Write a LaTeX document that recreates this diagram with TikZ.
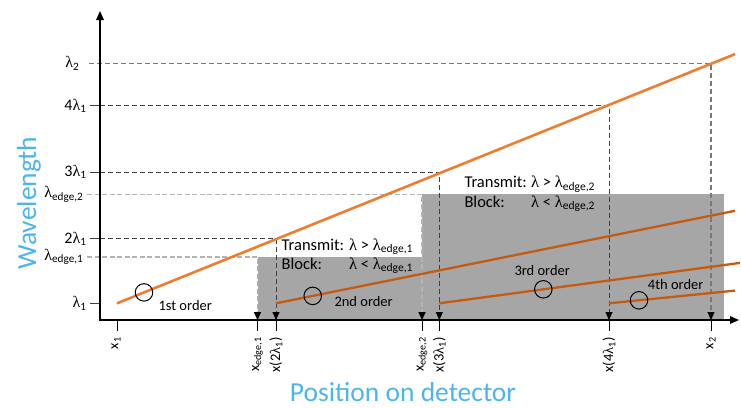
\documentclass[tikz,border=0pt]{standalone}
\usepackage{fontspec}
\setmainfont{Carlito}
\newfontfamily\lamfont{Liberation Serif}
\usetikzlibrary{arrows.meta}
\newcommand\lmb{{\lamfont λ}}
\definecolor{orA}{RGB}{237,125,49}
\definecolor{orB}{RGB}{197,90,17}
\definecolor{boxgray}{RGB}{166,166,166}
\definecolor{axblue}{RGB}{77,180,236}
\definecolor{dkdash}{RGB}{64,64,64}
\definecolor{mddash}{RGB}{120,120,120}
\definecolor{ltdash}{RGB}{180,180,180}
\begin{document}
\begin{tikzpicture}[x=1pt,y=-1pt,
  lbl/.style={font=\fontsize{14.5}{17}\selectfont, inner sep=0pt},
  ylbl/.style={font=\fontsize{16}{19}\selectfont, inner sep=0pt, anchor=east},
  xlbl/.style={font=\fontsize{14.5}{17}\selectfont, inner sep=0pt, rotate=90, anchor=east},
  txt/.style={font=\fontsize{16.5}{19}\selectfont, inner sep=0pt, anchor=base west},
  big/.style={font=\fontsize{27.5}{32}\selectfont, text=axblue, inner sep=0pt, anchor=base},
  dk/.style={draw=dkdash, line width=0.9pt, dash pattern=on 5pt off 3pt},
  md/.style={draw=mddash, line width=1.1pt, dash pattern=on 5pt off 3pt},
  lt/.style={draw=ltdash, line width=1.6pt, dash pattern=on 5pt off 2.5pt},
  tip/.style={-{Triangle[length=8pt,width=7pt,color=black]}},
  axis/.style={line width=1.6pt, line join=miter,
     {Triangle[length=9pt,width=7.5pt]}-{Triangle[length=9pt,width=7.5pt]}},
  tick/.style={line width=1pt},
  ord1/.style={draw=orA, line width=2.6pt},
  ordn/.style={draw=orB, line width=2.3pt},
  ring/.style={circle, draw, line width=1pt, minimum size=17.5pt, inner sep=0pt}]
\useasboundingbox (0,0) rectangle (741,407);

% ---- coordinates ----
\coordinate (O) at (100,320);
\coordinate (Ytop) at (100,11);
\coordinate (Xend) at (739,320);
% levels on the axis
\coordinate (Yl1) at (100,303.3);
\coordinate (Yl2) at (100,238.7);
\coordinate (Yl3) at (100,172);
\coordinate (Yl4) at (100,105.7);
\coordinate (YL2) at (89,63.3);
\coordinate (Ye1) at (87,256.7);
\coordinate (Ye2) at (87,194.3);
% corner points
\coordinate (P2) at (276,238.7);
\coordinate (P3) at (439.3,172);
\coordinate (P4) at (609,105.7);
\coordinate (PL2) at (711,63.3);
\coordinate (Pe1) at (257.5,256.7);
\coordinate (Pe2) at (422,194.3);
% feet on the x axis
\coordinate (B1) at (117,320);
\coordinate (B2) at (276,320);
\coordinate (B3) at (439.3,320);
\coordinate (B4) at (609,320);
\coordinate (BL2) at (711,320);
\coordinate (Be1) at (257.5,320);
\coordinate (Be2) at (422,320);

% ---- filter boxes ----
\fill[boxgray] (Pe1) rectangle (Be2);
\fill[boxgray] (Pe2) rectangle (724.3,320);

% ---- dashed guides ----
\draw[lt,tip] (Ye1) -- (Pe1) -- (Be1);
\draw[lt,tip] (Ye2) -- (Pe2) -- (Be2);
\draw[dk,tip] (Yl2) -- (P2) -- (B2);
\draw[dk,tip] (Yl3) -- (P3) -- (B3);
\draw[dk,tip] (Yl4) -- (P4) -- (B4);
\draw[md,tip] (YL2) -- (PL2) -- (BL2);

% ---- ticks ----
\foreach \yy in {303.3,238.7,172,105.7}
  \draw[tick,dkdash] (90,\yy) -- (100,\yy);
\foreach \xx in {117,257.5,276,422,439.3,609,711}
  \draw[tick] (\xx,320) -- (\xx,331);

% ---- diffraction orders ----
\coordinate (A1) at (117,303.3);  \coordinate (E1) at (735,54.1);
\coordinate (A2) at (276,303.3);  \coordinate (E2) at (735,210.8);
\coordinate (A3) at (439.3,303.3);\coordinate (E3) at (740,262.9);
\coordinate (A4) at (609,303.3);  \coordinate (E4) at (735,290.6);
\draw[ord1] (A1) -- (E1);
\draw[ordn] (A2) -- (E2);
\draw[ordn] (A3) -- (E3);
\draw[ordn] (A4) -- (E4);

\node[ring] (c1) at (144,292.4) {};
\node[ring] (c2) at (312.7,295.9) {};
\node[ring] (c3) at (543.3,289.3) {};
\node[ring] (c4) at (639,300.3) {};

% ---- axes ----
\draw[axis] (Ytop) -- (O) -- (Xend);

% ---- y labels ----
\node[ylbl] (ly1) at (86.7,303.3) {\lmb\textsubscript{1}};
\node[ylbl] (ly2) at (86.7,238.7) {2\lmb\textsubscript{1}};
\node[ylbl] (ly3) at (86.7,172) {3\lmb\textsubscript{1}};
\node[ylbl] (ly4) at (86.7,105.7) {4\lmb\textsubscript{1}};
\node[ylbl] (lyL) at (79.5,63.3) {\lmb\textsubscript{2}};
\node[ylbl] (lye1) at (83.5,256.7) {\lmb\textsubscript{edge,1}};
\node[ylbl] (lye2) at (83.5,194.3) {\lmb\textsubscript{edge,2}};

% ---- x labels ----
\node[xlbl] (lx1) at (116,337) {x\textsubscript{1}};
\node[xlbl] (lxe1) at (257.5,337) {x\textsubscript{edge,1}};
\node[xlbl] (lx2) at (276,337) {x(2\lmb\textsubscript{1})};
\node[xlbl] (lxe2) at (422,337) {x\textsubscript{edge,2}};
\node[xlbl] (lx3) at (439.3,337) {x(3\lmb\textsubscript{1})};
\node[xlbl] (lx4) at (609,337) {x(4\lmb\textsubscript{1})};
\node[xlbl] (lxL) at (711,337) {x\textsubscript{2}};

% ---- order labels ----
\node[lbl,anchor=base west] (o1) at (158.3,310) {1st order};
\node[lbl,anchor=base west] (o2) at (334.3,306.7) {2nd order};
\node[lbl,anchor=base west] (o3) at (514.3,275.7) {3rd order};
\node[lbl,anchor=base west] (o4) at (647.7,289.3) {4th order};

% ---- filter texts ----
\node[txt] (t1) at (281.5,250) {\makebox[67.5pt][l]{Transmit:}\lmb{} > \lmb\textsubscript{edge,1}};
\node[txt] (k1) at (281.5,269) {\makebox[67.5pt][l]{Block:}\lmb{} < \lmb\textsubscript{edge,1}};
\node[txt] (t2) at (464.3,187.7) {\makebox[66.7pt][l]{Transmit:}\lmb{} > \lmb\textsubscript{edge,2}};
\node[txt] (k2) at (464.3,207.3) {\makebox[66.7pt][l]{Block:}\lmb{} < \lmb\textsubscript{edge,2}};

% ---- axis titles ----
\node[big,rotate=90] (wl) at (36,203) {Wavelength};
\node[big] (pd) at (403,401.5) {Position on detector};
\end{tikzpicture}
\end{document}
